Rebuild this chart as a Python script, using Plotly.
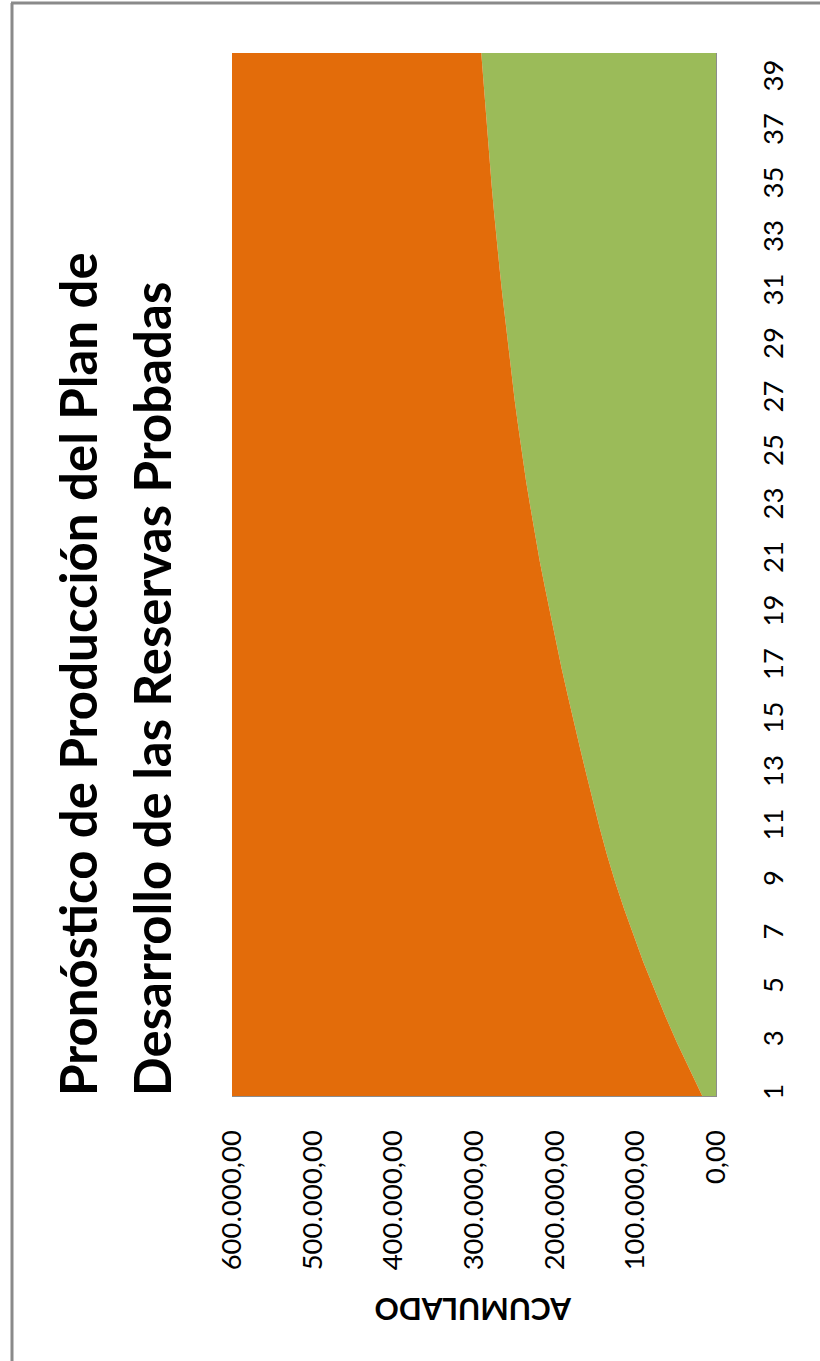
import plotly.graph_objects as go

# categorias (periodos) y produccion acumulada
periodos = list(range(1, 41))
acumulado = [17000, 33000, 48500, 63000, 77000, 90000, 102000, 114000, 125000, 135000,
             144000, 152500, 160500, 168500, 176500, 184000, 191500, 198500, 205500, 212000,
             218500, 224500, 230000, 235500, 240500, 245000, 249500, 253500, 257500, 261500,
             265000, 268500, 272000, 275000, 278000, 280500, 283000, 285500, 288000, 291000]
reservas = [600000] * 40
etiquetas_periodo = list(range(1, 40, 2))
valores_eje = [0, 100000, 200000, 300000, 400000, 500000, 600000]

titulo_1 = "Pronóstico de Producción del Plan de"
titulo_2 = "Desarrollo de las Reservas Probadas"

W, H = 820, 1361
L, R, T, B = 232, 716, 53, 1096


def px_x(p):
    return (p - L) / (R - L)


def px_y(p):
    return (B - p) / (B - T)


fig = go.Figure()
fig.add_trace(go.Scatter(x=acumulado, y=periodos, orientation='h', stackgroup='a',
                         mode='lines', line=dict(width=0), fillcolor='#9BBB59'))
fig.add_trace(go.Scatter(x=reservas, y=periodos, orientation='h', stackgroup='a',
                         mode='lines', line=dict(width=0), fillcolor='#E36C0A'))

font = "Lato, 'Open Sans', sans-serif"
fig.update_layout(
    width=W, height=H, showlegend=False,
    margin=dict(l=L, r=W - R, t=T, b=H - B),
    paper_bgcolor='white', plot_bgcolor='white',
    separators=',.',
    font=dict(family=font, color='black'),
    xaxis=dict(range=[600000, 0], tickvals=valores_eje, tickformat=',.2f',
               tickangle=-90, tickfont=dict(size=27.5), ticklabelstandoff=22,
               showgrid=False, zeroline=False,
               showline=True, linecolor='#8c8c8c', linewidth=1, ticks='', ticklen=0),
    yaxis=dict(range=[1, 40], side='right', tickvals=etiquetas_periodo, tickangle=-90,
               tickfont=dict(size=27.5), ticklabelstandoff=33,
               showgrid=False, zeroline=False,
               showline=True, linecolor='#8c8c8c', linewidth=1, ticks='', ticklen=0),
    annotations=[
        dict(text=titulo_1, textangle=-90, xref='paper', yref='paper',
             x=px_x(77), y=px_y(1098), xanchor='center', yanchor='bottom', showarrow=False,
             font=dict(size=51, family=font, color='black', weight='bold')),
        dict(text=titulo_2, textangle=-90, xref='paper', yref='paper',
             x=px_x(151), y=px_y(1098), xanchor='center', yanchor='bottom', showarrow=False,
             font=dict(size=51, family=font, color='black', weight='bold')),
        dict(text="ACUMULADO", textangle=180, xref='paper', yref='paper',
             x=0.5, y=px_y(1310), xanchor='center', yanchor='middle', showarrow=False,
             font=dict(size=30, family=font, color='black', weight='bold')),
    ],
    shapes=[
        dict(type='line', xref='paper', yref='paper', x0=px_x(12), x1=px_x(12),
             y0=px_y(3), y1=px_y(H + 5), line=dict(color='#8a8a8a', width=3)),
        dict(type='line', xref='paper', yref='paper', x0=px_x(11), x1=px_x(W + 5),
             y0=px_y(3), y1=px_y(3), line=dict(color='#8a8a8a', width=3)),
    ],
)

fig.write_html("out.html", config={'displayModeBar': False},
               post_script="document.body.style.margin='0';")
